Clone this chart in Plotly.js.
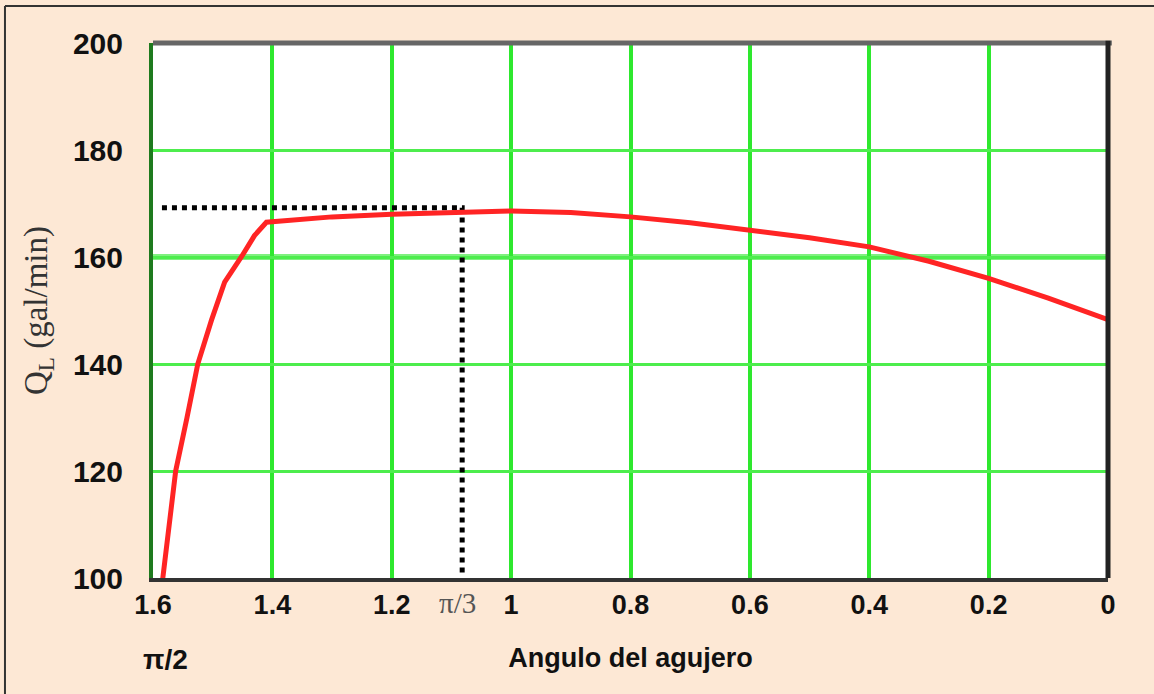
<!DOCTYPE html>
<html>
<head>
<meta charset="utf-8">
<script src="https://cdn.plot.ly/plotly-3.0.1.min.js"></script>
<style>html,body{margin:0;padding:0;background:#FDE8D5;}#chart{width:1154px;height:694px;}</style>
</head>
<body>
<div id="chart"></div>
<script>
// Data
const angle = [1.584, 1.562, 1.543, 1.525, 1.502, 1.48, 1.452, 1.43, 1.41, 1.3, 1.2, 1.1, 1.0, 0.9, 0.8, 0.7, 0.6, 0.5, 0.4, 0.3, 0.2, 0.1, 0.0];
const flowQL = [99.6, 120, 130, 140, 148.2, 155.3, 160, 164, 166.5, 167.5, 168, 168.4, 168.6, 168.3, 167.5, 166.4, 165, 163.6, 161.9, 159.2, 156, 152.3, 148.3];
const refAngle = [1.585, 1.082, 1.082];
const refQL = [169.2, 169.2, 100.5];
const xTickVals = [1.6, 1.4, 1.2, 1.0, 0.8, 0.6, 0.4, 0.2, 0];
const xTickText = ['1.6', '1.4', '1.2', '1', '0.8', '0.6', '0.4', '0.2', '0'];
const yTickVals = [100, 120, 140, 160, 180, 200];
const piThirdLabelX = 1.09;

const boldFont = 'Liberation Sans Narrow, Arial Narrow, Liberation Sans, Arial, sans-serif';

const traces = [
  {
    x: refAngle, y: refQL, mode: 'lines', type: 'scatter',
    line: {color: '#000', width: 5, dash: 'dot'}, hoverinfo: 'skip', showlegend: false
  },
  {
    x: angle, y: flowQL, mode: 'lines', type: 'scatter',
    line: {color: '#ff2424', width: 5}, showlegend: false
  }
];

const layout = {
  width: 1154, height: 694,
  paper_bgcolor: '#FDE8D5',
  plot_bgcolor: '#ffffff',
  margin: {l: 153, r: 46, t: 43, b: 116},
  showlegend: false,
  xaxis: {
    range: [1.6, 0],
    tickvals: xTickVals, ticktext: xTickText,
    showgrid: true, gridcolor: '#2ee82e', gridwidth: 4,
    zeroline: false,
    showline: true, linecolor: '#333333', linewidth: 4,
    ticks: '', ticklabelstandoff: 0,
    tickfont: {family: boldFont, size: 27, color: '#111', weight: 'bold'},
    title: {text: 'Angulo del agujero', standoff: 30,
      font: {family: boldFont, size: 27, color: '#111', weight: 'bold'}}
  },
  yaxis: {
    range: [100, 200],
    tickvals: yTickVals,
    showgrid: true, gridcolor: '#4ded4d', gridwidth: 3,
    zeroline: false,
    showline: true, linecolor: '#1e7a1e', linewidth: 4,
    ticks: '', ticklabelstandoff: 20,
    tickfont: {family: 'Liberation Sans, Arial, sans-serif', size: 30, color: '#111', weight: 'bold'},
    title: {text: 'Q<sub>L</sub> (gal/min)', standoff: 16,
      font: {family: 'Liberation Serif, Times New Roman, serif', size: 33, color: '#333'}}
  },
  shapes: [
    {type: 'line', xref: 'paper', yref: 'y', x0: 0, x1: 1, y0: 160, y1: 160, line: {color: '#80f080', width: 6}, layer: 'below'},
    {type: 'line', xref: 'paper', yref: 'paper', x0: 0, x1: 1.004, y0: 1, y1: 1, line: {color: '#666666', width: 5}},
    {type: 'line', xref: 'paper', yref: 'paper', x0: 1, x1: 1, y0: 0, y1: 1.004, line: {color: '#222222', width: 5}},
    {type: 'line', xref: 'paper', yref: 'paper', x0: -0.155, x1: -0.155, y0: -0.3, y1: 1.069, line: {color: '#333333', width: 2}},
    {type: 'line', xref: 'paper', yref: 'paper', x0: -0.155, x1: 1.1, y0: 1.069, y1: 1.069, line: {color: '#333333', width: 2}}
  ],
  annotations: [
    {text: 'π/3', x: piThirdLabelX, xref: 'x', y: -0.047, yref: 'paper', yanchor: 'middle', xanchor: 'center', showarrow: false,
      font: {family: 'Liberation Serif, Times New Roman, serif', size: 29, color: '#555'}},
    {text: 'π/2', x: 0.013, xref: 'paper', y: -0.153, yref: 'paper', yanchor: 'middle', xanchor: 'center', showarrow: false,
      font: {family: 'Liberation Sans, Arial, sans-serif', size: 28, color: '#111', weight: 'bold'}}
  ]
};

Plotly.newPlot('chart', traces, layout, {displayModeBar: false, staticPlot: true});
</script>
</body>
</html>
